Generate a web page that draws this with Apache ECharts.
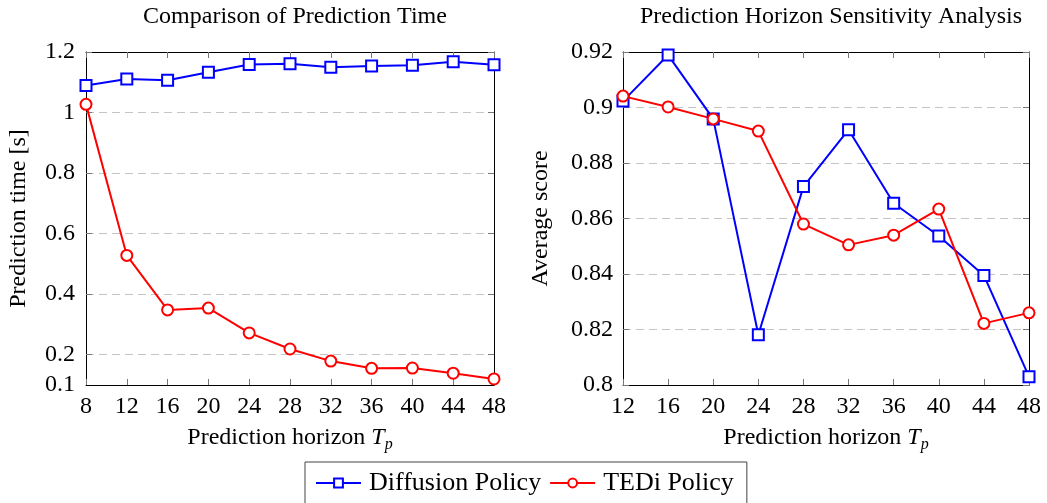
<!DOCTYPE html>
<html lang="en">
<head>
  <meta charset="UTF-8">
  <title>Prediction horizon - ECharts</title>
  <script src="https://cdn.jsdelivr.net/npm/echarts@6/dist/echarts.min.js"></script>
</head>
<body style="margin:0">
  <div id="main" style="width: 1047px; height: 503px;"></div>

  <script>
    // Data
    const horizonsTime = [8, 12, 16, 20, 24, 28, 32, 36, 40, 44, 48];
    const diffusionTime = [1.089, 1.111, 1.107, 1.133, 1.159, 1.161, 1.150, 1.154, 1.156, 1.168, 1.158];
    const tediTime = [1.027, 0.528, 0.348, 0.354, 0.272, 0.219, 0.179, 0.155, 0.156, 0.139, 0.120];

    const horizonsScore = [12, 16, 20, 24, 28, 32, 36, 40, 44, 48];
    const diffusionScore = [0.9023, 0.9189, 0.8959, 0.8181, 0.8715, 0.892, 0.8655, 0.8537, 0.8395, 0.803];
    const tediScore = [0.9041, 0.9002, 0.8959, 0.8915, 0.858, 0.8505, 0.854, 0.8634, 0.8222, 0.826];

    const timeTickValues = [0.2, 0.4, 0.6, 0.8, 1, 1.2];
    const timeLabelValues = [0.1, 0.2, 0.4, 0.6, 0.8, 1, 1.2];

    const FONT = 'Liberation Serif';
    const FS = 24;

    let myChart = echarts.init(document.getElementById('main'));

    const zip = (xs, ys) => xs.map((x, i) => [x, ys[i]]);

    // shared look for the pgfplots-like boxes
    function axisBase(extra) {
      return Object.assign({
        axisLine: { show: true, onZero: false, lineStyle: { color: '#000', width: 1 } },
        axisTick: { show: true, inside: true, length: 6, lineStyle: { color: '#777' } },
        splitLine: { show: false },
        axisLabel: { fontFamily: FONT, fontSize: FS, color: '#000' }
      }, extra);
    }

    const horizonName = 'Prediction horizon {i|T}{s|p}';
    const nameRich = {
      i: { fontFamily: FONT, fontSize: FS, fontStyle: 'italic', color: '#000' },
      s: { fontFamily: FONT, fontSize: 16, fontStyle: 'italic', color: '#000', padding: [14, 0, 0, 0] }
    };

    const blue = '#0000ff';
    const red = '#ff0000';

    function lineSeries(name, data, color, symbol, xi, yi) {
      return {
        name: name,
        type: 'line',
        data: data,
        xAxisIndex: xi,
        yAxisIndex: yi,
        symbol: symbol === 'rect' ? 'rect' : 'circle',
        symbolSize: 11,
        showAllSymbol: true,
        itemStyle: { color: '#fff', borderColor: color, borderWidth: 2 },
        lineStyle: { color: color, width: 2 },
        emphasis: { disabled: true },
        animation: false
      };
    }

    const options = {
      animation: false,
      title: [
        { text: 'Comparison of Prediction Time', left: 290, top: 0, textAlign: 'center',
          textStyle: { fontFamily: FONT, fontSize: FS, fontWeight: 'normal', color: '#000' } },
        { text: 'Prediction Horizon Sensitivity Analysis', left: 826, top: 0, textAlign: 'center',
          textStyle: { fontFamily: FONT, fontSize: FS, fontWeight: 'normal', color: '#000' } }
      ],
      legend: {
        left: 305, top: 462,
        itemWidth: 45, itemHeight: 11, itemGap: 8,
        padding: [8, 13, 8, 10],
        borderColor: '#444', borderWidth: 1,
        textStyle: { fontFamily: FONT, fontSize: 26, color: '#000', padding: [0, 0, 0, 3] },
        data: ['Diffusion Policy', 'TEDi Policy']
      },
      grid: [
        { left: 86, top: 52, width: 408, height: 333 },
        { left: 623, top: 52, width: 406, height: 333 }
      ],
      xAxis: [
        axisBase({ type: 'value', gridIndex: 0, min: 8, max: 48, interval: 4, position: 'bottom',
          axisLabel: { fontFamily: FONT, fontSize: FS, color: '#000', margin: 10 },
          name: horizonName, nameLocation: 'middle', nameGap: 38,
          nameTextStyle: { fontFamily: FONT, fontSize: FS, color: '#000', rich: nameRich } }),
        axisBase({ type: 'value', gridIndex: 0, min: 8, max: 48, interval: 4, position: 'top',
          axisLabel: { show: false } }),
        axisBase({ type: 'value', gridIndex: 1, min: 12, max: 48, interval: 4, position: 'bottom',
          axisLabel: { fontFamily: FONT, fontSize: FS, color: '#000', margin: 10 },
          name: horizonName, nameLocation: 'middle', nameGap: 38,
          nameTextStyle: { fontFamily: FONT, fontSize: FS, color: '#000', rich: nameRich } }),
        axisBase({ type: 'value', gridIndex: 1, min: 12, max: 48, interval: 4, position: 'top',
          axisLabel: { show: false } })
      ],
      yAxis: [
        axisBase({ type: 'value', gridIndex: 0, min: 0.1, max: 1.2, position: 'left',
          axisTick: { show: true, inside: true, length: 6, lineStyle: { color: '#777' }, customValues: timeTickValues },
          axisLabel: { fontFamily: FONT, fontSize: FS, color: '#000', margin: 11, customValues: timeLabelValues },
          splitLine: { show: true, lineStyle: { color: '#c4c4c4', type: [8, 5] } },
          name: 'Prediction time [s]', nameLocation: 'middle', nameGap: 55,
          nameTextStyle: { fontFamily: FONT, fontSize: FS, color: '#000' } }),
        axisBase({ type: 'value', gridIndex: 0, min: 0.1, max: 1.2, position: 'right',
          axisTick: { show: true, inside: true, length: 6, lineStyle: { color: '#777' }, customValues: timeTickValues },
          axisLabel: { show: false } }),
        axisBase({ type: 'value', gridIndex: 1, min: 0.8, max: 0.92, interval: 0.02, position: 'left',
          axisLabel: { fontFamily: FONT, fontSize: FS, color: '#000', margin: 10 },
          splitLine: { show: true, lineStyle: { color: '#c4c4c4', type: [8, 5] } },
          name: 'Average score', nameLocation: 'middle', nameGap: 70,
          nameTextStyle: { fontFamily: FONT, fontSize: FS, color: '#000' } }),
        axisBase({ type: 'value', gridIndex: 1, min: 0.8, max: 0.92, interval: 0.02, position: 'right',
          axisLabel: { show: false } })
      ],
      series: [
        lineSeries('Diffusion Policy', zip(horizonsTime, diffusionTime), blue, 'rect', 0, 0),
        lineSeries('TEDi Policy', zip(horizonsTime, tediTime), red, 'circle', 0, 0),
        lineSeries('Diffusion Policy', zip(horizonsScore, diffusionScore), blue, 'rect', 2, 2),
        lineSeries('TEDi Policy', zip(horizonsScore, tediScore), red, 'circle', 2, 2)
      ]
    };

    myChart.setOption(options);
  </script>
</body>
</html>
